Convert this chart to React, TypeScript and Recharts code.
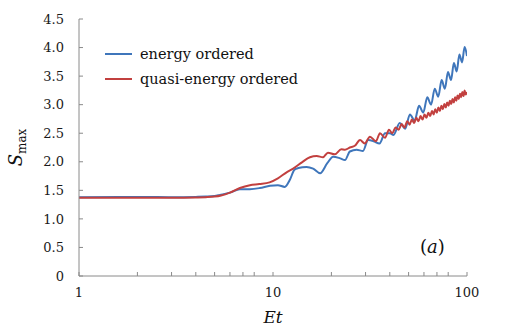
import { LineChart, Line, XAxis, YAxis, Legend } from 'recharts';

// energy ordered (blue)
const blueT = [1, 2, 3, 4, 4.5, 5, 5.33, 6, 6.75, 7.6, 8.55, 9.65, 10.6, 11.5, 12.2, 12.9, 13.5, 14.9, 16.1, 17.5, 19.0, 20.4, 22.2, 23.5, 24.9, 27.0, 29.1, 30.9, 33.0, 35.4, 37.8, 40.1, 41.8, 45.0, 48.0, 50.8, 53.7, 56.6, 59.5, 62.4, 65.3, 68.2, 71.1, 74.0, 76.9, 79.8, 82.7, 85.6, 88.5, 91.4, 94.3, 97.2, 100];
const blueS = [1.38, 1.385, 1.38, 1.385, 1.39, 1.40, 1.42, 1.46, 1.52, 1.52, 1.54, 1.58, 1.59, 1.56, 1.68, 1.86, 1.89, 1.91, 1.88, 1.80, 1.97, 2.09, 2.06, 2.03, 2.18, 2.21, 2.19, 2.38, 2.36, 2.32, 2.50, 2.50, 2.47, 2.68, 2.58, 2.83, 2.72, 2.98, 2.86, 3.13, 3.00, 3.28, 3.14, 3.43, 3.28, 3.57, 3.43, 3.73, 3.58, 3.88, 3.74, 4.01, 3.85];

// quasi-energy ordered (red)
const redT = [1, 2, 3, 4, 4.5, 5, 5.4, 6, 6.75, 7.6, 8.5, 9.6, 10.6, 11.8, 12.7, 14.1, 15.5, 16.8, 18.1, 19.2, 20.8, 22.5, 23.5, 24.9, 26.4, 28.1, 29.7, 31.6, 33.9, 35.6, 37.8, 39.6, 41.2, 42.8, 44.4, 46.0, 47.6, 49.2, 50.6, 52.0, 53.4, 54.8, 56.2, 57.6, 59.0, 60.4, 61.8, 63.2, 64.6, 66.0, 67.3, 68.6, 69.9, 71.2, 72.5, 73.8, 75.1, 76.4, 77.7, 79.0, 80.3, 81.6, 82.9, 84.2, 85.5, 86.8, 88.1, 89.4, 90.7, 92.0, 93.3, 94.6, 95.9, 97.2, 98.5, 100];
const redS = [1.37, 1.37, 1.37, 1.375, 1.38, 1.39, 1.41, 1.46, 1.54, 1.59, 1.61, 1.64, 1.71, 1.82, 1.88, 1.99, 2.08, 2.10, 2.08, 2.16, 2.13, 2.22, 2.21, 2.25, 2.28, 2.38, 2.32, 2.44, 2.36, 2.50, 2.42, 2.56, 2.50, 2.60, 2.56, 2.66, 2.60, 2.71, 2.65, 2.74, 2.68, 2.77, 2.71, 2.80, 2.74, 2.83, 2.77, 2.86, 2.80, 2.89, 2.83, 2.92, 2.86, 2.95, 2.89, 2.98, 2.92, 3.01, 2.95, 3.04, 2.98, 3.07, 3.01, 3.10, 3.04, 3.13, 3.07, 3.16, 3.10, 3.19, 3.13, 3.22, 3.15, 3.25, 3.18, 3.22];

const xTicks = [1, 2, 3, 4, 5, 6, 7, 8, 9, 10, 20, 30, 40, 50, 60, 70, 80, 90, 100];
const xLabels = [1, 10, 100];
const yTicks = [0, 0.5, 1, 1.5, 2, 2.5, 3, 3.5, 4, 4.5];

const energyData = blueT.map((t, i) => ({ t, s: blueS[i] }));
const quasiData = redT.map((t, i) => ({ t, s: redS[i] }));

const FONT = 'DejaVu Serif';
const AXIS = '#8a8a8a';
const BLUE = '#3f76bb';
const RED = '#c2403f';

const tickStyle = { fontFamily: FONT, fontSize: 13, fill: '#1a1a1a' };

const yTitle = (props: any) => {
    const { viewBox } = props;
    const cx = viewBox.x + 22;
    const cy = viewBox.y + viewBox.height / 2;
    return (
        <text x={cx} y={cy} transform={`rotate(-90 ${cx} ${cy})`} textAnchor="middle" fontFamily={FONT} fill="#111">
            <tspan fontStyle="italic" fontSize={18}>S</tspan>
            <tspan fontSize={12} dy={4}>max</tspan>
        </text>
    );
};

const xTitle = (props: any) => {
    const { viewBox } = props;
    return (
        <text x={viewBox.x + viewBox.width / 2} y={viewBox.y + 47} textAnchor="middle" fontFamily={FONT} fontStyle="italic" fontSize={17} fill="#111">
            Et
        </text>
    );
};

function LegendBox({ payload }: any) {
    return (
        <div style={{ fontFamily: FONT, fontSize: 14.5, color: '#111' }}>
            {(payload || []).map((p: any) => (
                <div key={p.value} style={{ display: 'flex', alignItems: 'center', height: 25 }}>
                    <svg width={27} height={4} style={{ display: 'block' }}>
                        <line x1={0} y1={2} x2={27} y2={2} stroke={p.color} strokeWidth={2} />
                    </svg>
                    <span style={{ marginLeft: 8, whiteSpace: 'nowrap' }}>{p.value}</span>
                </div>
            ))}
        </div>
    );
}

export default function App() {
    return (
        <div style={{ position: 'absolute', left: 0, top: 0, width: 508, height: 330, background: '#fff' }}>
            <LineChart width={508} height={330} margin={{ top: 19, right: 41, bottom: 0, left: 0 }}>
                <XAxis
                    dataKey="t"
                    type="number"
                    scale="log"
                    domain={[1, 100]}
                    ticks={xTicks}
                    allowDataOverflow
                    height={54}
                    stroke={AXIS}
                    tickSize={-4}
                    tickMargin={16}
                    tick={tickStyle}
                    tickFormatter={(v: number) => (xLabels.includes(v) ? String(v) : '')}
                    label={xTitle}
                />
                <XAxis
                    xAxisId="top"
                    orientation="top"
                    dataKey="t"
                    type="number"
                    scale="log"
                    domain={[1, 100]}
                    ticks={xTicks}
                    allowDataOverflow
                    height={0}
                    stroke={AXIS}
                    tickSize={-4}
                    tick={false}
                />
                <YAxis
                    type="number"
                    domain={[0, 4.5]}
                    ticks={yTicks}
                    width={79}
                    stroke={AXIS}
                    tickSize={-4}
                    tickMargin={19}
                    tick={tickStyle}
                    tickFormatter={(v: number) => (v === 0 ? '0' : v.toFixed(1))}
                    label={yTitle}
                />
                <YAxis
                    yAxisId="right"
                    orientation="right"
                    type="number"
                    domain={[0, 4.5]}
                    ticks={yTicks}
                    width={0}
                    stroke={AXIS}
                    tickSize={-4}
                    tick={false}
                />
                <Legend
                    layout="vertical"
                    align="center"
                    verticalAlign="middle"
                    content={LegendBox}
                    wrapperStyle={{ left: 105, top: 41, width: 'auto' }}
                />
                <Line
                    data={energyData}
                    dataKey="s"
                    name="energy ordered"
                    type="monotone"
                    stroke={BLUE}
                    strokeWidth={2}
                    dot={false}
                    isAnimationActive={false}
                />
                <Line
                    data={quasiData}
                    dataKey="s"
                    name="quasi-energy ordered"
                    type="monotone"
                    stroke={RED}
                    strokeWidth={2}
                    dot={false}
                    isAnimationActive={false}
                />
            </LineChart>
            <div style={{ position: 'absolute', left: 420, top: 236, fontFamily: FONT, fontSize: 18, lineHeight: '22px', color: '#111' }}>
                (<span style={{ fontStyle: 'italic' }}>a</span>)
            </div>
        </div>
    );
}
